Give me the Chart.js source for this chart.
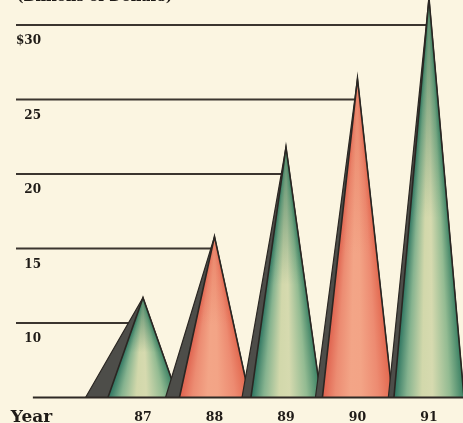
<!DOCTYPE html>
<html>
<head>
<meta charset="utf-8">
<script src="https://cdn.jsdelivr.net/npm/chart.js@4/dist/chart.umd.min.js"></script>
<style>
  html, body { margin: 0; padding: 0; background: #fbf5e1; }
  #wrap { width: 463px; height: 423px; position: relative; }
</style>
</head>
<body>
<div id="wrap"><canvas id="c" width="463" height="423"></canvas></div>
<script>
// Revenue by year, billions of dollars
const years = ['87', '88', '89', '90', '91'];
const yearPos = [87, 88, 89, 90, 91];
const revenue = [11.7, 15.8, 21.8, 26.4, 31.8];
const coneTone = ['green', 'salmon', 'green', 'salmon', 'green'];
const yTicks = [10, 15, 20, 25, 30];
const yTickLabels = ['10', '15', '20', '25', '$30'];
const axisLabel = 'Year';
const unitTitle = '(Billions of Dollars)';

// Scale extents and cone geometry (in axis units)
const BASE = 5;
const X_MIN = 85.224, X_MAX = 91.476;
const Y_MAX = 31.68;
const YEAR_LABEL_AT = 85.44;
const BASELINE_START = 85.46;
const HALF = 0.49;
const X_AXIS_HEIGHT = 25.5;

const INK = '#2a2622';
const SERIF = '"DejaVu Serif", "Liberation Serif", serif';

const palettes = {
  green:  ['#2c7460', '#86b38f', '#d2d8ab', '#d6daaf', '#93bb92', '#3b8164'],
  salmon: ['#df624e', '#ec8c72', '#f3a587', '#f3a486', '#ed8b71', '#e2684f']
};
const tipTint = {
  green:  ['rgba(40,112,86,0.75)', 'rgba(40,112,86,0)'],
  salmon: ['rgba(226,104,80,0.55)', 'rgba(226,104,80,0)']
};

// Shading that follows the cone: a conic gradient around the apex
function coneFill(i) {
  return (ctx) => {
    const chart = ctx.chart;
    const sx = chart.scales.x, sy = chart.scales.y;
    const pal = palettes[coneTone[i]];
    if (!sx || !sy || !chart.chartArea) return pal[2];
    const c = yearPos[i], v = revenue[i];
    const ax = sx.getPixelForValue(c), ay = sy.getPixelForValue(v);
    const lx = sx.getPixelForValue(c - HALF), rx = sx.getPixelForValue(c + HALF);
    const by = sy.getPixelForValue(BASE);
    const aR = Math.atan2(by - ay, rx - ax);
    const aL = Math.atan2(by - ay, lx - ax);
    const span = (aL - aR) / (2 * Math.PI);
    const g = chart.ctx.createConicGradient(aR, ax, ay);
    // pal runs left edge -> right edge; gradient runs right edge -> left edge
    g.addColorStop(0, pal[5]);
    g.addColorStop(span * 0.2, pal[4]);
    g.addColorStop(span * 0.45, pal[3]);
    g.addColorStop(span * 0.6, pal[2]);
    g.addColorStop(span * 0.82, pal[1]);
    g.addColorStop(span, pal[0]);
    g.addColorStop(1, pal[0]);
    return g;
  };
}

// Deeper colour towards the tip of each cone
function tipFill(i) {
  return (ctx) => {
    const chart = ctx.chart;
    const sy = chart.scales.y;
    const t = tipTint[coneTone[i]];
    if (!sy || !chart.chartArea) return t[1];
    const ay = sy.getPixelForValue(revenue[i]);
    const by = sy.getPixelForValue(BASE);
    const g = chart.ctx.createLinearGradient(0, ay, 0, by);
    g.addColorStop(0, t[0]);
    g.addColorStop(0.55, t[1]);
    g.addColorStop(1, t[1]);
    return g;
  };
}

const datasets = [];

// Leader lines from the left edge to each cone
yTicks.forEach((v, i) => {
  datasets.push({
    data: [{ x: X_MIN, y: v }, { x: yearPos[i], y: v }],
    borderColor: '#3b352f', borderWidth: 2, pointRadius: 0, fill: false,
    order: 1000
  });
});

// Cones: dark side first, then the lit face, then the tip tint
revenue.forEach((v, i) => {
  const c = yearPos[i];
  const side = 2.1 / (v - BASE);
  const face = [{ x: c - HALF, y: BASE }, { x: c, y: v }, { x: c + HALF, y: BASE }];
  datasets.push({
    data: [{ x: c - HALF - side, y: BASE }, { x: c, y: v }, { x: c + HALF, y: BASE }],
    backgroundColor: '#4d4d49', borderColor: INK, borderWidth: 1.2,
    pointRadius: 0, fill: 'start', tension: 0,
    order: 100 - 3 * i
  });
  datasets.push({
    data: face,
    backgroundColor: coneFill(i), borderColor: 'rgba(0,0,0,0)', borderWidth: 0,
    pointRadius: 0, fill: 'start', tension: 0,
    order: 99 - 3 * i
  });
  datasets.push({
    data: face,
    backgroundColor: tipFill(i), borderColor: INK, borderWidth: 1.6,
    pointRadius: 0, fill: 'start', tension: 0,
    order: 98 - 3 * i
  });
});

// Baseline
datasets.push({
  data: [{ x: BASELINE_START, y: BASE }, { x: X_MAX, y: BASE }],
  borderColor: '#2e2924', borderWidth: 2.2, pointRadius: 0, fill: false,
  order: 0
});

const unitTitlePlugin = {
  id: 'unitTitle',
  afterDraw(chart) {
    const g = chart.ctx;
    g.save();
    g.font = 'bold 14px ' + SERIF;
    g.fillStyle = '#1f1b17';
    g.textAlign = 'left';
    g.textBaseline = 'alphabetic';
    g.fillText(unitTitle, 17, 1);
    g.restore();
  }
};

new Chart(document.getElementById('c'), {
  type: 'line',
  data: { datasets },
  plugins: [unitTitlePlugin],
  options: {
    responsive: false,
    animation: false,
    events: [],
    clip: false,
    layout: { padding: { left: 16, right: 0, top: 0, bottom: 0 } },
    plugins: { legend: { display: false }, tooltip: { enabled: false }, title: { display: false } },
    scales: {
      x: {
        type: 'linear', min: X_MIN, max: X_MAX,
        grid: { display: false, drawTicks: false },
        border: { display: false },
        afterBuildTicks: (axis) => {
          axis.ticks = [{ value: YEAR_LABEL_AT }].concat(yearPos.map(v => ({ value: v })));
        },
        afterFit: (axis) => {
          axis.paddingLeft = 0; axis.paddingRight = 0;
          axis.height = X_AXIS_HEIGHT;
        },
        ticks: {
          autoSkip: false, maxRotation: 0, padding: 13.5, color: '#1f1b17',
          callback: (value) => value === YEAR_LABEL_AT ? axisLabel : years[yearPos.indexOf(value)],
          font: (ctx) => ctx.index === 0
            ? { family: SERIF, size: 17, weight: 'bold', lineHeight: '14px' }
            : { family: SERIF, size: 12.5, weight: 'bold', lineHeight: '14px' }
        }
      },
      y: {
        type: 'linear', min: BASE, max: Y_MAX,
        grid: { display: false, drawTicks: false },
        border: { display: false },
        afterBuildTicks: (axis) => { axis.ticks = yTicks.map(v => ({ value: v })); },
        afterFit: (axis) => { axis.paddingTop = 0; axis.paddingBottom = 0; },
        ticks: {
          mirror: true, crossAlign: 'far', padding: 0, labelOffset: 16,
          color: '#1f1b17',
          font: { family: SERIF, size: 12, weight: 'bold' },
          callback: (value) => yTickLabels[yTicks.indexOf(value)]
        }
      }
    }
  }
});
</script>
</body>
</html>
